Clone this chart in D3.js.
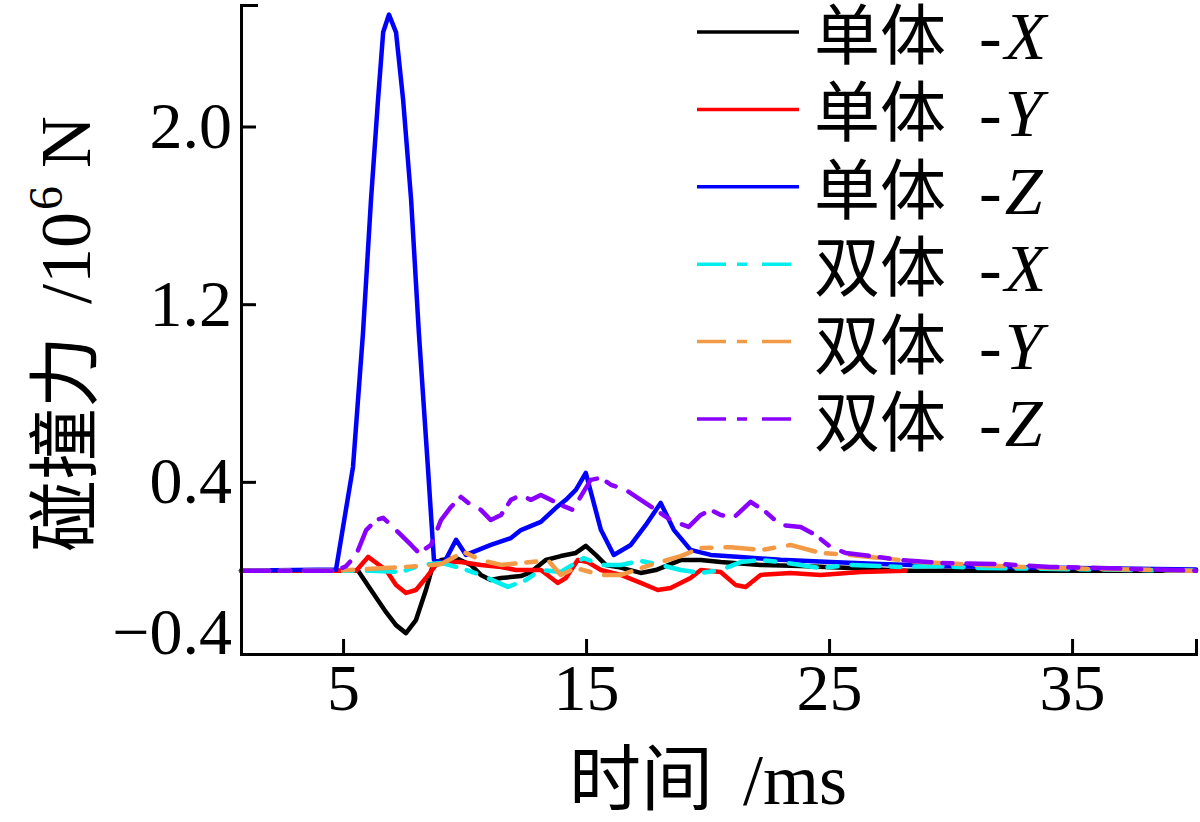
<!DOCTYPE html>
<html>
<head>
<meta charset="utf-8">
<script src="https://cdn.jsdelivr.net/npm/d3@7"></script>
<style>
  body { margin: 0; background: #fff; }
  text { font-family: "Liberation Serif", "Noto Sans CJK SC", serif; }
</style>
</head>
<body>
<div id="chart"></div>
<script>
// series labels and colours
const seriesNames = ["单体", "单体", "单体", "双体", "双体", "双体"];
const seriesAxis = ["X", "Y", "Z", "X", "Y", "Z"];
const seriesColors = ["#000000", "#ff0000", "#0000ff", "#00eeee", "#f29a45", "#8a00ff"];

const yTicks = [0.4, 1.2, 2.0];
const xTicks = [5, 15, 25, 35];

// 单体 -X
const singleXTime = [0.8, 5.62, 6.15, 6.77, 7.18, 7.59, 8.0, 8.41, 8.7, 9.03, 9.65, 10.26, 10.67, 11.08, 11.5, 12.32, 12.73, 13.34, 13.96, 14.58, 14.99, 15.4, 15.81, 16.3, 17.25, 17.87, 18.89, 19.72, 20.54, 22.18, 23.83, 25.88, 28.0, 40.1];
const singleXForce = [0, 0, -0.087, -0.187, -0.245, -0.281, -0.222, -0.087, 0.026, 0.048, 0.057, 0.026, -0.019, -0.042, -0.033, -0.024, -0.006, 0.048, 0.066, 0.08, 0.112, 0.071, 0.026, 0.017, -0.01, 0.003, 0.048, 0.048, 0.039, 0.026, 0.021, 0.012, 0, 0];

// 单体 -Y
const singleYTime = [0.8, 5.54, 6.03, 6.77, 7.18, 7.59, 8.0, 8.41, 8.82, 9.23, 9.85, 10.67, 11.5, 12.11, 13.14, 13.84, 14.17, 14.66, 15.07, 15.61, 16.43, 17.25, 17.95, 18.48, 19.3, 19.72, 20.54, 21.15, 21.57, 22.18, 23.41, 24.65, 26.29, 28.14];
const singleYForce = [0, 0, 0.062, 0.003, -0.064, -0.1, -0.087, -0.033, 0.026, 0.039, 0.039, 0.026, 0.017, 0.003, 0.003, -0.055, -0.033, 0.048, 0.039, 0.003, -0.019, -0.055, -0.087, -0.078, -0.033, 0.003, -0.006, -0.064, -0.073, -0.019, -0.01, -0.019, -0.006, 0];

// 单体 -Z
const singleZTime = [0.8, 4.71, 5.41, 5.82, 6.15, 6.44, 6.65, 6.89, 7.18, 7.47, 7.8, 8.12, 8.49, 8.74, 9.15, 9.65, 10.06, 11.08, 11.91, 12.32, 13.14, 13.76, 14.17, 14.58, 14.99, 15.61, 16.14, 16.84, 17.46, 18.07, 18.61, 19.3, 20.13, 21.36, 23.0, 25.06, 27.11, 29.58, 32.05, 40.1];
const singleZForce = [0, 0.005, 0.468, 1.07, 1.671, 2.122, 2.424, 2.504, 2.424, 2.122, 1.671, 1.07, 0.468, 0.049, 0.035, 0.139, 0.071, 0.116, 0.147, 0.183, 0.22, 0.283, 0.319, 0.364, 0.44, 0.184, 0.071, 0.116, 0.206, 0.305, 0.184, 0.094, 0.071, 0.062, 0.049, 0.039, 0.03, 0.021, 0.017, 0.005];

// 双体 -X
const doubleXTime = [0.8, 4.71, 6.15, 7.38, 8.21, 9.03, 9.85, 10.67, 11.78, 12.52, 13.14, 13.96, 14.9, 15.61, 16.43, 17.25, 18.07, 18.89, 19.72, 20.54, 21.36, 22.18, 23.0, 23.83, 24.65, 25.88, 27.94, 29.58, 31.22, 40.1];
const doubleXForce = [0, 0, 0, -0.006, 0.026, 0.035, 0.012, -0.019, -0.073, -0.042, 0.003, -0.006, 0.057, 0.026, 0.026, 0.044, 0.026, 0.003, -0.01, 0.003, 0.039, 0.048, 0.039, 0.026, 0.012, 0.026, 0.017, 0.021, 0.012, 0];

// 双体 -Y
const doubleYTime = [0.8, 4.71, 8.21, 9.03, 9.97, 10.67, 11.5, 12.73, 13.43, 13.96, 14.58, 15.61, 16.43, 17.66, 18.89, 19.72, 20.95, 22.18, 23.41, 24.65, 25.88, 27.11, 28.76, 30.4, 32.05, 34.1, 40.1];
const doubleYForce = [0, 0, 0.021, 0.03, 0.084, 0.048, 0.026, 0.039, 0.048, -0.019, 0.012, -0.019, -0.019, 0.026, 0.066, 0.102, 0.106, 0.093, 0.116, 0.08, 0.071, 0.057, 0.039, 0.03, 0.021, 0.012, 0];

// 双体 -Z
const doubleZTime = [0.8, 4.71, 5.12, 5.54, 5.95, 6.36, 6.65, 6.97, 7.38, 7.8, 8.12, 8.62, 9.03, 9.44, 9.85, 10.26, 10.67, 11.08, 11.5, 11.91, 12.32, 12.73, 13.14, 13.55, 13.96, 14.45, 15.19, 15.61, 16.02, 16.63, 17.25, 17.87, 18.48, 19.22, 19.72, 20.13, 20.54, 21.07, 21.77, 22.39, 23.0, 23.83, 24.44, 25.06, 25.68, 26.7, 27.94, 29.58, 32.05, 34.1, 36.15, 40.1];
const doubleZForce = [0, 0, 0.02, 0.071, 0.183, 0.228, 0.238, 0.206, 0.161, 0.116, 0.08, 0.116, 0.228, 0.287, 0.332, 0.296, 0.274, 0.228, 0.251, 0.319, 0.341, 0.319, 0.341, 0.319, 0.296, 0.274, 0.409, 0.418, 0.387, 0.364, 0.319, 0.274, 0.228, 0.197, 0.251, 0.274, 0.251, 0.238, 0.31, 0.265, 0.206, 0.197, 0.161, 0.107, 0.08, 0.066, 0.048, 0.035, 0.03, 0.017, 0.012, 0];

const allTimes = [singleXTime, singleYTime, singleZTime, doubleXTime, doubleYTime, doubleZTime];
const allForces = [singleXForce, singleYForce, singleZForce, doubleXForce, doubleYForce, doubleZForce];
const dashed = [false, false, false, true, true, true];

const width = 1200;
const height = 822;

const svg = d3.select("#chart")
    .append("svg")
    .attr("width", width)
    .attr("height", height);

const x = d3.scaleLinear().domain([0.8, 40.1]).range([241, 1196]);
const y = d3.scaleLinear().domain([-0.375, 2.547]).range([654, 5]);

// build one point list per series
const series = allTimes.map(function (times, i) {
    return times.map(function (t, j) { return { t: t, v: allForces[i][j] }; });
});

const line = d3.line()
    .x(d => x(d.t))
    .y(d => y(d.v));

series.forEach(function (pts, i) {
    svg.append("path")
        .datum(pts)
        .attr("fill", "none")
        .attr("stroke", seriesColors[i])
        .attr("stroke-width", 4.5)
        .attr("stroke-linejoin", "round")
        .attr("stroke-linecap", "round")
        .attr("stroke-dasharray", dashed[i] ? "28,11,10,14" : null)
        .attr("d", line);
});

// axes, ticks pointing inward
const xAxis = d3.axisBottom(x)
    .tickValues(xTicks)
    .tickFormat(d3.format("d"))
    .tickSizeInner(-15)
    .tickSizeOuter(-15)
    .tickPadding(8);

const yAxis = d3.axisLeft(y)
    .tickValues(yTicks)
    .tickFormat(d3.format(".1f"))
    .tickSizeInner(-15)
    .tickSizeOuter(-17)
    .tickPadding(9);

const gx = svg.append("g")
    .attr("transform", "translate(0," + y.range()[0] + ")")
    .call(xAxis);

const gy = svg.append("g")
    .attr("transform", "translate(" + x.range()[0] + ",0)")
    .call(yAxis);

[gx, gy].forEach(function (g) {
    g.selectAll("path, line").attr("stroke", "#000").attr("stroke-width", 3);
    g.selectAll("text")
        .attr("font-family", "Liberation Serif, serif")
        .attr("font-size", 66)
        .attr("fill", "#000");
});
gx.selectAll("text").attr("dy", "0.72em");

// bottom label of the y axis
gy.append("text")
    .attr("x", -9)
    .attr("y", y.range()[0] - 21)
    .attr("dy", "0.32em")
    .attr("text-anchor", "end")
    .attr("font-family", "Liberation Serif, serif")
    .attr("font-size", 66)
    .attr("fill", "#000")
    .text("\u22120.4");

// axis titles
const xTitle = svg.append("text")
    .attr("x", 708)
    .attr("y", 804)
    .attr("text-anchor", "middle")
    .attr("font-size", 72)
    .attr("fill", "#000");
xTitle.append("tspan").attr("font-family", "Noto Sans CJK SC").text("时间");
xTitle.append("tspan").attr("font-family", "Liberation Serif").attr("dx", 12).text(" /ms");

const yTitle = svg.append("text")
    .attr("transform", "translate(90,334) rotate(-90)")
    .attr("text-anchor", "middle")
    .attr("font-size", 72)
    .attr("fill", "#000");
yTitle.append("tspan").attr("font-family", "Noto Sans CJK SC").text("碰撞力");
yTitle.append("tspan").attr("font-family", "Liberation Serif").attr("dx", 14).text(" /10");
yTitle.append("tspan").attr("font-family", "Liberation Serif").attr("font-size", 48).attr("dy", -28).attr("dx", 2).text("6");
yTitle.append("tspan").attr("font-family", "Liberation Serif").attr("dy", 28).text(" N");

// legend
const legend = svg.append("g");
const rowY = d3.scaleLinear().domain([0, 5]).range([32, 419]);

seriesNames.forEach(function (name, i) {
    const ry = rowY(i);
    legend.append("line")
        .attr("x1", 697).attr("x2", 799)
        .attr("y1", ry).attr("y2", ry)
        .attr("stroke", seriesColors[i])
        .attr("stroke-width", 3.5)
        .attr("stroke-dasharray", dashed[i] ? "29,11,10,15" : null);
    const t = legend.append("text")
        .attr("x", 814)
        .attr("y", ry + 27)
        .attr("fill", "#000");
    t.append("tspan").attr("font-family", "Noto Sans CJK SC").attr("font-size", 66).text(name);
    t.append("tspan").attr("font-family", "Liberation Serif").attr("font-size", 68).attr("dx", 33).text("-");
    t.append("tspan").attr("font-family", "Liberation Serif").attr("font-size", 68).attr("font-style", "italic").attr("dx", 3).text(seriesAxis[i]);
});
</script>
</body>
</html>
